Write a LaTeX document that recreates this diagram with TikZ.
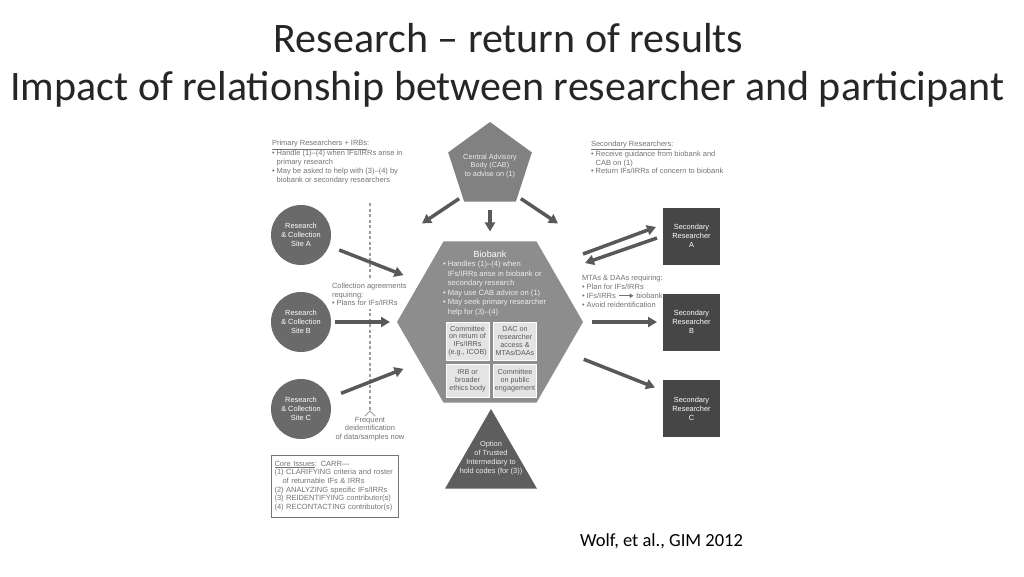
\documentclass[tikz,border=0pt]{standalone}
\usepackage{fontspec}
\setmainfont{Carlito}
\setsansfont{Liberation Sans}
\usetikzlibrary{shapes.geometric,arrows.meta}

\definecolor{notegray}{HTML}{747474}
\definecolor{sitegray}{HTML}{6A6A6A}
\definecolor{cabgray}{HTML}{818181}
\definecolor{biogray}{HTML}{8D8D8D}
\definecolor{boxfill}{HTML}{E4E4E4}
\definecolor{boxink}{HTML}{5A5A5A}
\definecolor{secgray}{HTML}{464646}
\definecolor{trigray}{HTML}{5E5E5E}
\definecolor{arrgray}{HTML}{595959}
\definecolor{dashgray}{HTML}{9C9C9C}

\begin{document}
\begin{tikzpicture}[
    x=1pt, y=-1pt,
    line cap=round,
    every node/.style={inner sep=0pt, outer sep=0pt,
      font=\sffamily\fontsize{7.5}{8.7}\selectfont},
    title/.style={font=\rmfamily\fontsize{42}{50}\selectfont, anchor=base,
      text=black!85},
    note/.style={text=notegray, align=left, anchor=north west},
    site/.style={circle, fill=sitegray, minimum size=60pt,
      text=white, align=center, font=\sffamily\fontsize{7.4}{9}\selectfont},
    secres/.style={fill=secgray, minimum size=57pt,
      text=white, align=center, font=\sffamily\fontsize{7.4}{9}\selectfont},
    hexa/.style={regular polygon, regular polygon sides=6,
      minimum size=186pt, fill=biogray},
    pent/.style={regular polygon, regular polygon sides=5,
      minimum size=88pt, fill=cabgray},
    tri/.style={regular polygon, regular polygon sides=3,
      minimum size=106pt, fill=trigray},
    intext/.style={text=white!93!black, align=center},
    inbox/.style={fill=boxfill, draw=white, line width=.5pt,
      minimum width=43pt, minimum height=#1, text=boxink, align=center,
      font=\sffamily\fontsize{7.2}{7.8}\selectfont},
    arr/.style={draw=arrgray, line width=3.5pt, line cap=butt,
      -{Triangle[length=9pt,width=10pt]}},
]
  \fill[white] (0,0) rectangle (1024,576);

  \node[title] (head) at (508.5,52) {Research – return of results};
  \node[title] (sub) at (507.5,100)
    {Impact of relationship between researcher and participant};

  % dashed divider
  \coordinate (dtop) at (370,203);
  \coordinate (dbot) at (370,411);
  \draw[dashgray, line width=1.3pt, line cap=butt,
    dash pattern=on 3pt off 2.5pt] (dtop) -- (dbot);
  \draw[dashgray, line width=1pt]
    ([shift={(-5,5)}]dbot) -- (dbot) -- ([shift={(5,5)}]dbot);
  \node[note, fill=white, inner xsep=1pt, inner ysep=3pt] (coll) at (331,280)
    {Collection agreements\\requiring:\\• Plans for IFs/IRRs};

  % shapes
  \node[pent] (cab) at (490,166) {};
  \node[hexa] (bio) at (490,322) {};
  \node[tri] (tti) at (491,462) {};
  \node[site] (siteA) at (301,235) {Research\\\& Collection\\Site A};
  \node[site] (siteB) at (301,322) {Research\\\& Collection\\Site B};
  \node[site] (siteC) at (301,409) {Research\\\& Collection\\Site C};
  \node[secres] (secA) at (691.5,236) {Secondary\\Researcher\\A};
  \node[secres] (secB) at (691.5,322) {Secondary\\Researcher\\B};
  \node[secres] (secC) at (691.5,408.5) {Secondary\\Researcher\\C};

  \node[intext, font=\sffamily\fontsize{7.3}{8.3}\selectfont] (cabtxt)
    at (cab.center) {Central Advisory\\Body (CAB)\\to advise on (1)};
  \node[intext, font=\sffamily\fontsize{7.4}{9.1}\selectfont] (ttitxt)
    at (491,458) {Option\\of Trusted\\Intermediary to\\hold codes (for (3))};

  \node[text=white, font=\sffamily\fontsize{9}{10}\selectfont] (biotitle)
    at (490,254) {Biobank};
  \node[intext, align=left, anchor=north west,
    font=\sffamily\fontsize{7.6}{9.5}\selectfont] (biotxt) at (443,261)
    {• Handles (1)–(4) when\\
     \phantom{• }IFs/IRRs arise in biobank or\\
     \phantom{• }secondary research\\
     • May use CAB advice on (1)\\
     • May seek primary researcher\\
     \phantom{• }help for (3)–(4)};

  \node[inbox=38pt] (icob) at (467.5,341)
    {Committee\\on return of\\IFs/IRRs\\(e.g., ICOB)};
  \node[inbox=38pt] (dac) at (515,341)
    {DAC on\\researcher\\access \&\\MTAs/DAAs};
  \node[inbox=33pt] (irb) at (467.5,380.5) {IRB or\\broader\\ethics body};
  \node[inbox=33pt] (pub) at (515,380.5) {Committee\\on public\\engagement};

  % notes
  \node[note] (prim) at (272,140.5)
    {\underline{Primary Researchers + IRBs}:\\
     • Handle (1)–(4) when IFs/IRRs arise in\\
     \phantom{• }primary research\\
     • May be asked to help with (3)–(4) by\\
     \phantom{• }biobank or secondary researchers};
  \node[note] (sec) at (591,141)
    {\underline{Secondary Researchers}:\\
     • Receive guidance from biobank and\\
     \phantom{• }CAB on (1)\\
     • Return IFs/IRRs of concern to biobank};
  \node[note] (mta) at (582,275.5)
    {MTAs \& DAAs requiring:\\
     • Plan for IFs/IRRs\\
     • IFs/IRRs \tikz[baseline=-2.6pt]\draw[notegray, line width=1.2pt,
       -{Triangle[length=4pt,width=4.5pt]}] (0pt,0pt) -- (15pt,0pt); biobank\\
     • Avoid reidentification};
  \node[text=notegray, align=center] (deid) at (370,429)
    {Frequent\\deidentification\\of data/samples now};
  \node[draw=notegray, line width=1pt, text=notegray, align=left,
    anchor=north west, inner xsep=3.5pt, text width=120pt,
    minimum height=62pt] (core) at (271,455)
    {\underline{Core Issues}: CARR—\\
     (1) CLARIFYING criteria and roster\\
     \hspace*{8pt}of returnable IFs \& IRRs\\
     (2) ANALYZING specific IFs/IRRs\\
     (3) REIDENTIFYING contributor(s)\\
     (4) RECONTACTING contributor(s)};

  \node[font=\rmfamily\fontsize{18.5}{22}\selectfont, anchor=base] (cite)
    at (661.5,546) {Wolf, et al., GIM 2012};

  % arrows
  \draw[arr, shorten <=11pt, shorten >=18pt] (siteA) -- (bio.150);
  \draw[arr, shorten <=4pt, shorten >=7pt] (siteB) -- (bio);
  \draw[arr, shorten <=13pt, shorten >=18pt] (siteC) -- (bio.210);
  \draw[arr] ([shift={(-5,-3)}]cab.234) -- ([shift={(-21.5,-18)}]bio.120);
  \draw[arr] ([shift={(5,-3)}]cab.306) -- ([shift={(21.5,-18)}]bio.60);
  \draw[arr, shorten <=8pt, shorten >=10pt] (cab.south) -- (bio.north);
  \draw[arr] ([shift={(0,-68)}]bio.east) -- ([shift={(-7,-9)}]secA.west);
  \draw[arr] ([shift={(-6,2)}]secA.west) -- ([shift={(2,-59)}]bio.east);
  \draw[arr, shorten <=9pt, shorten >=6pt] (bio) -- (secB);
  \draw[arr] ([shift={(24,-3)}]bio.330) -- ([shift={(-8,-21)}]secC.west);
\end{tikzpicture}
\end{document}
